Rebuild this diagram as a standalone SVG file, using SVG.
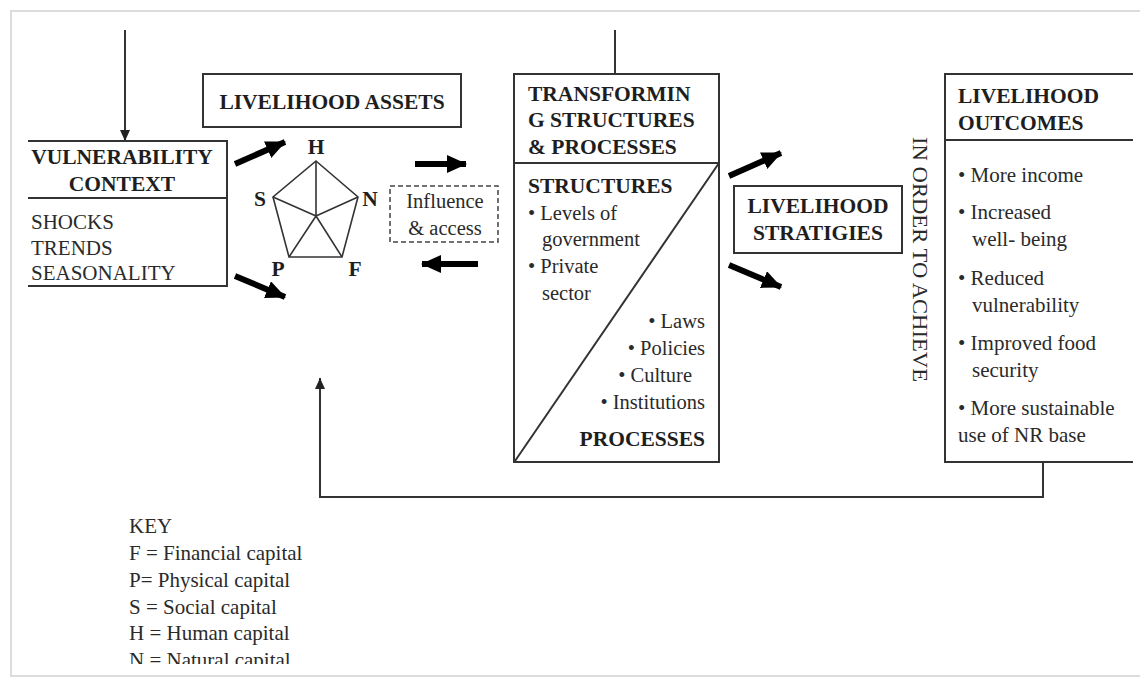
<svg xmlns="http://www.w3.org/2000/svg" width="1140" height="678" viewBox="0 0 1140 678">
<style>
text{font-family:"Liberation Serif","Times New Roman",serif;fill:#1e1e1e;}
.b{font-weight:bold;font-size:21.5px;}
.r{font-size:21px;fill:#2a2a2a;}
.t{font-size:20.5px;fill:#2a2a2a;}
.box{fill:none;stroke:#333;stroke-width:2;}
.ln{stroke:#333;stroke-width:2;fill:none;}
.thick{stroke:#000;stroke-width:6;fill:none;}
.pent{stroke:#333;stroke-width:1.6;fill:none;}
.end{text-anchor:end;}
.mid{text-anchor:middle;}
</style>
<defs>
<marker id="big" markerUnits="userSpaceOnUse" markerWidth="20" markerHeight="18" refX="19" refY="9" orient="auto">
<path d="M0,0 L20,9 L0,18 z" fill="#000"/>
</marker>
<marker id="thin" markerUnits="userSpaceOnUse" markerWidth="12" markerHeight="12" refX="11" refY="5" orient="auto">
<path d="M0,0 L11,5 L0,10 z" fill="#222"/>
</marker>
<clipPath id="pageClip"><rect x="0" y="0" width="1140" height="664"/></clipPath>
</defs>
<rect x="0" y="0" width="1140" height="678" fill="#fff"/>
<rect x="11" y="11" width="1140" height="665" fill="#fff" stroke="#dcdcdc" stroke-width="2"/>

<g id="connectors">
<line class="ln" x1="125" y1="30" x2="125" y2="141" marker-end="url(#thin)"/>
<line class="ln" x1="615" y1="30" x2="615" y2="74"/>
<line class="thick" x1="235" y1="164" x2="285" y2="142" marker-end="url(#big)"/>
<line class="thick" x1="235" y1="276" x2="285" y2="297" marker-end="url(#big)"/>
<line class="thick" x1="415" y1="164" x2="466" y2="164" marker-end="url(#big)"/>
<line class="thick" x1="478" y1="264" x2="422" y2="264" marker-end="url(#big)"/>
<line class="thick" x1="729" y1="176" x2="781" y2="153" marker-end="url(#big)"/>
<line class="thick" x1="729" y1="265" x2="781" y2="287" marker-end="url(#big)"/>
<path class="ln" d="M1043,462 L1043,497 L320,497 L320,378" marker-end="url(#thin)"/>
</g>

<g id="vulnerability">
<path class="box" d="M28,141 L227,141 L227,286 L28,286"/>
<line class="ln" x1="28" y1="198" x2="227" y2="198"/>
<text class="b mid" x="122" y="164">VULNERABILITY</text>
<text class="b mid" x="122" y="191">CONTEXT</text>
<text class="r" x="31" y="229">SHOCKS</text>
<text class="r" x="31" y="255">TRENDS</text>
<text class="r" x="31" y="280">SEASONALITY</text>
</g>

<g id="assets">
<rect class="box" x="203" y="74" width="258" height="53"/>
<text class="b mid" x="332" y="109" font-size="22.5">LIVELIHOOD ASSETS</text>
</g>

<g id="pentagon">
<polygon class="pent" points="316,161 358,197 342,257 289,257 273,197"/>
<path class="pent" d="M316,216 L316,161 M316,216 L358,197 M316,216 L342,257 M316,216 L289,257 M316,216 L273,197"/>
<text class="b mid" x="316" y="154" font-size="19">H</text>
<text class="b mid" x="260" y="206" font-size="19">S</text>
<text class="b mid" x="370" y="206" font-size="19">N</text>
<text class="b mid" x="278" y="276" font-size="19">P</text>
<text class="b mid" x="355" y="276" font-size="19">F</text>
</g>

<g id="influence">
<rect x="390" y="186" width="108" height="56" fill="none" stroke="#444" stroke-width="1.5" stroke-dasharray="5,3"/>
<text class="t mid" x="445" y="208" fill="#333">Influence</text>
<text class="t mid" x="445" y="235" fill="#333">&amp; access</text>
</g>

<g id="transforming">
<rect class="box" x="514" y="74" width="205" height="388"/>
<line class="ln" x1="514" y1="163" x2="719" y2="163"/>
<line class="ln" x1="719" y1="163" x2="515" y2="461" stroke-width="1.6"/>
<text class="b" x="528" y="101">TRANSFORMIN</text>
<text class="b" x="528" y="127">G STRUCTURES</text>
<text class="b" x="528" y="154">&amp; PROCESSES</text>
<text class="b" x="528" y="193">STRUCTURES</text>
<text class="t" x="528" y="220">• Levels of</text>
<text class="t" x="542" y="246">government</text>
<text class="t" x="528" y="273">• Private</text>
<text class="t" x="542" y="300">sector</text>
<text class="t end" x="705" y="328">• Laws</text>
<text class="t end" x="705" y="355">• Policies</text>
<text class="t end" x="692" y="382">• Culture</text>
<text class="t end" x="705" y="409">• Institutions</text>
<text class="b end" x="705" y="446">PROCESSES</text>
</g>

<g id="strategies">
<rect class="box" x="734" y="186" width="168" height="67"/>
<text class="b mid" x="818" y="213">LIVELIHOOD</text>
<text class="b mid" x="818" y="240">STRATIGIES</text>
</g>

<g id="in-order">
<text class="r" x="0" y="0" font-size="22" textLength="245" lengthAdjust="spacingAndGlyphs" transform="translate(913,137) rotate(90)">IN ORDER TO ACHIEVE</text>
</g>

<g id="outcomes">
<path class="box" d="M1133,74 L945,74 L945,462 L1133,462"/>
<line class="ln" x1="945" y1="140" x2="1133" y2="140"/>
<text class="b" x="958" y="103">LIVELIHOOD</text>
<text class="b" x="958" y="130">OUTCOMES</text>
<text class="r" x="958" y="182">• More income</text>
<text class="r" x="958" y="219">• Increased</text>
<text class="r" x="972" y="246">well- being</text>
<text class="r" x="958" y="285">• Reduced</text>
<text class="r" x="972" y="312">vulnerability</text>
<text class="r" x="958" y="350">• Improved food</text>
<text class="r" x="972" y="377">security</text>
<text class="r" x="958" y="415">• More sustainable</text>
<text class="r" x="958" y="442">use of NR base</text>
</g>

<g id="key" clip-path="url(#pageClip)">
<text class="r" x="129" y="533">KEY</text>
<text class="r" x="129" y="560">F = Financial capital</text>
<text class="r" x="129" y="587">P= Physical capital</text>
<text class="r" x="129" y="614">S = Social capital</text>
<text class="r" x="129" y="640">H = Human capital</text>
<text class="r" x="129" y="667">N = Natural capital</text>
</g>
</svg>
